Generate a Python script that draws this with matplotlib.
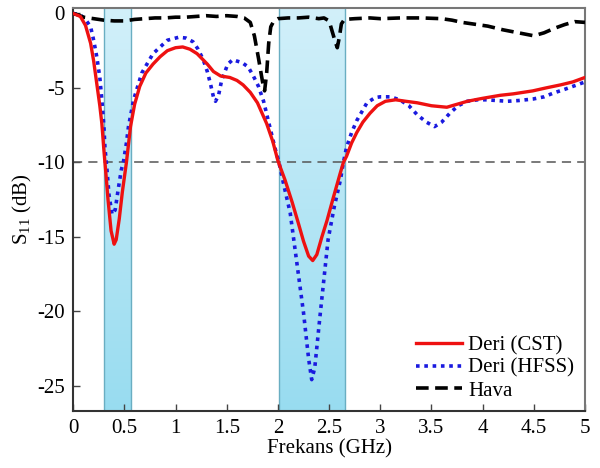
import numpy as np
import matplotlib
matplotlib.use('Agg')
import matplotlib.pyplot as plt
from matplotlib.colors import LinearSegmentedColormap

matplotlib.rcParams.update({'font.size': 15,
                            'font.family': 'Liberation Serif',
                            'axes.unicode_minus': False,
                            'mathtext.fontset': 'custom',
                            'mathtext.rm': 'Liberation Serif',
                            'mathtext.it': 'Liberation Serif:italic'})

# S11 from the CST simulation (GHz, dB)
f_cst = [0.00, 0.07, 0.12, 0.17, 0.20, 0.23, 0.26, 0.28, 0.30, 0.32, 0.34, 0.37, 0.40, 0.42,
         0.45, 0.48, 0.52, 0.56, 0.60, 0.65, 0.71, 0.78, 0.85, 0.92, 1.00, 1.07, 1.14, 1.21,
         1.31, 1.37, 1.44, 1.53, 1.60, 1.66, 1.73, 1.80, 1.89, 1.95, 2.00, 2.07, 2.14, 2.20,
         2.25, 2.30, 2.34, 2.38, 2.43, 2.48, 2.54, 2.61, 2.64, 2.67, 2.72, 2.77, 2.83, 2.90,
         2.97, 3.05, 3.15, 3.25, 3.36, 3.50, 3.65, 3.75, 3.85, 4.00, 4.17, 4.30, 4.49, 4.62,
         4.76, 4.88, 5.00]
s_cst = [0.0, -0.2, -0.8, -2.0, -3.2, -4.7, -6.2, -7.4, -9.2, -10.8, -12.5, -14.6, -15.5, -15.2,
         -13.8, -12.0, -10.0, -7.6, -6.1, -4.9, -4.0, -3.4, -2.9, -2.5, -2.3, -2.25, -2.4, -2.7,
         -3.4, -3.9, -4.2, -4.3, -4.5, -4.8, -5.3, -6.0, -7.4, -8.6, -9.9, -11.2, -12.7, -14.1,
         -15.3, -16.3, -16.6, -16.2, -15.0, -13.9, -12.4, -10.7, -10.0, -9.6, -8.7, -8.0, -7.3, -6.7,
         -6.2, -5.9, -5.8, -5.9, -6.0, -6.2, -6.3, -6.1, -5.9, -5.7, -5.5, -5.4, -5.2, -5.0,
         -4.8, -4.6, -4.3]

# S11 from HFSS
f_hfss = [0.00, 0.07, 0.12, 0.17, 0.20, 0.23, 0.26, 0.28, 0.30, 0.31, 0.33, 0.35, 0.38, 0.41,
          0.44, 0.47, 0.49, 0.52, 0.54, 0.59, 0.67, 0.78, 0.92, 1.03, 1.10, 1.17, 1.22, 1.27,
          1.31, 1.34, 1.37, 1.39, 1.42, 1.45, 1.51, 1.56, 1.60, 1.65, 1.71, 1.76, 1.81, 1.86,
          1.92, 1.97, 2.01, 2.06, 2.12, 2.18, 2.25, 2.30, 2.33, 2.36, 2.41, 2.45, 2.49, 2.55,
          2.61, 2.64, 2.67, 2.72, 2.77, 2.87, 2.95, 3.00, 3.10, 3.19, 3.28, 3.36, 3.45, 3.53,
          3.60, 3.68, 3.76, 3.85, 3.95, 4.04, 4.14, 4.24, 4.35, 4.49, 4.60, 4.69, 4.80, 4.90, 5.00]
s_hfss = [0.0, -0.1, -0.4, -0.9, -1.8, -2.9, -4.3, -5.8, -7.6, -9.0, -10.5, -12.2, -13.5, -13.2,
          -11.8, -10.5, -10.0, -8.7, -7.6, -5.8, -4.0, -2.7, -1.8, -1.6, -1.65, -1.9, -2.4, -3.1,
          -3.9, -4.7, -5.6, -5.9, -5.5, -4.5, -3.4, -3.1, -3.2, -3.3, -3.6, -4.2, -4.9, -5.9,
          -7.6, -9.0, -10.0, -11.6, -13.4, -16.5, -20.1, -23.2, -24.6, -23.8, -20.4, -17.8, -15.2, -13.0,
          -11.2, -10.0, -9.0, -8.0, -7.2, -6.0, -5.65, -5.6, -5.6, -5.8, -6.2, -6.8, -7.3, -7.6,
          -7.3, -6.7, -6.2, -5.9, -5.8, -5.8, -5.85, -5.9, -5.85, -5.75, -5.6, -5.35, -5.1, -4.85, -4.6]

# S11 in air
f_air = [0.00, 0.05, 0.10, 0.20, 0.30, 0.40, 0.50, 0.60, 0.70, 0.80, 0.90, 1.00, 1.10, 1.20,
         1.30, 1.40, 1.50, 1.60, 1.67, 1.73, 1.77, 1.81, 1.85, 1.87, 1.89, 1.91, 1.93, 1.96,
         2.00, 2.10, 2.20, 2.30, 2.40, 2.45, 2.50, 2.53, 2.56, 2.58, 2.60, 2.62, 2.65, 2.75,
         2.90, 3.00, 3.20, 3.40, 3.60, 3.70, 3.80, 3.95, 4.05, 4.20, 4.35, 4.50, 4.60, 4.70,
         4.80, 4.90, 5.00]
s_air = [0.0, -0.1, -0.25, -0.35, -0.45, -0.5, -0.5, -0.4, -0.35, -0.3, -0.3, -0.25, -0.25, -0.2,
         -0.15, -0.2, -0.15, -0.2, -0.3, -0.6, -1.5, -3.0, -4.6, -5.2, -4.0, -2.0, -0.9, -0.5,
         -0.35, -0.3, -0.3, -0.25, -0.35, -0.3, -0.5, -1.2, -1.9, -2.3, -1.6, -0.7, -0.4, -0.35,
         -0.3, -0.35, -0.3, -0.3, -0.35, -0.45, -0.6, -0.75, -0.85, -1.1, -1.3, -1.5, -1.3, -1.0,
         -0.75, -0.55, -0.6]

# operating bands (GHz)
bands = [(0.30, 0.56), (2.01, 2.66)]

fig = plt.figure(figsize=(6, 4.68), dpi=100)
ax = fig.add_axes([0.122, 0.122, 0.853, 0.861])

ymin, ymax = -26.7, 0.37
band_cmap = LinearSegmentedColormap.from_list('band', ['#d2f0fa', '#98dcf0'])
grad = np.linspace(0, 1, 256).reshape(-1, 1)
for lo, hi in bands:
    # light at the top, deeper blue towards the bottom
    ax.imshow(grad, cmap=band_cmap, aspect='auto', extent=(lo, hi, ymin, ymax),
              origin='upper', zorder=0)
    ax.axvline(lo, color='#6aaec2', lw=1.0, zorder=1)
    ax.axvline(hi, color='#6aaec2', lw=1.0, zorder=1)

ax.axhline(-10, color='#555555', lw=1.1, ls=(0, (6, 4)), zorder=2)

ax.plot(f_cst, s_cst, color='#ee1111', lw=2.4, label='Deri (CST)', zorder=4)
ax.plot(f_hfss, s_hfss, color='#1a1adf', lw=2.6, ls=(0, (1, 1.3)), label='Deri (HFSS)', zorder=3)
ax.plot(f_air, s_air, color='black', lw=2.6, ls=(0, (3.5, 1.8)), label='Hava', zorder=3)

ax.set_xlim(0, 5)
ax.set_ylim(ymin, ymax)
ax.set_xticks(np.arange(0, 5.01, 0.5))
ax.set_xticklabels(['0', '0.5', '1', '1.5', '2', '2.5', '3', '3.5', '4', '4.5', '5'])
ax.set_yticks([0, -5, -10, -15, -20, -25])
ax.tick_params(direction='in', length=5, width=1, color='#444444', pad=6)
for side in ['left', 'bottom']:
    ax.spines[side].set_color('#333333')
    ax.spines[side].set_linewidth(1.5)
for side in ['top', 'right']:
    ax.spines[side].set_color('#777777')
    ax.spines[side].set_linewidth(1.5)

ax.set_xlabel('Frekans (GHz)', labelpad=1)
ax.set_ylabel(r'S$_{11}$ (dB)', labelpad=2)

ax.legend(loc='lower right', frameon=False, handlelength=2.2, handletextpad=0.3,
          labelspacing=0.15, borderaxespad=0.0, bbox_to_anchor=(0.995, 0.005))

fig.savefig('out.png', dpi=100)
